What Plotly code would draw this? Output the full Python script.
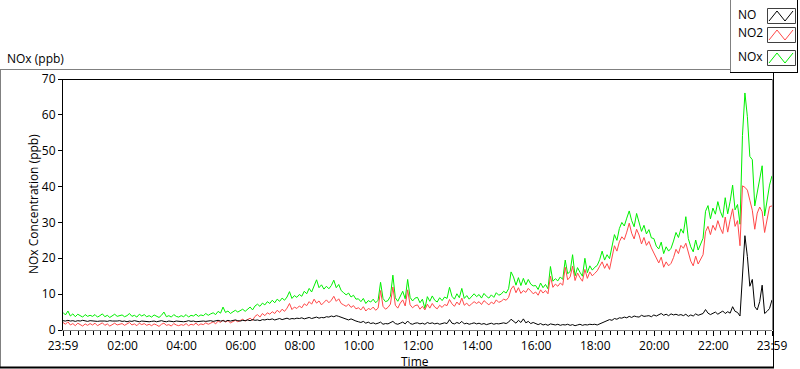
import pandas as pd
import plotly.graph_objects as go

# ---------------- data (5-minute readings, 23:59 -> 23:59) ----------------
NO2 = [
    2.1, 1.6, 2.3, 1.4, 1.8, 1.2, 1.9, 1.5, 1.1, 1.7, 1.3, 1.8,
    1.4, 1.9, 1.2, 1.6, 2.0, 1.3, 1.7, 1.1, 1.5, 1.9, 1.4, 1.6,
    1.8, 1.3, 1.6, 2.1, 1.4, 1.7, 1.2, 1.9, 1.5, 1.8, 1.3, 1.6,
    1.2, 1.7, 1.4, 1.0, 1.6, 1.9, 1.3, 1.5, 1.1, 1.8, 1.4, 1.2,
    1.5, 1.3, 1.8, 1.2, 1.6, 1.4, 1.9, 1.3, 1.7, 1.5, 2.0, 1.6,
    1.9, 2.3, 1.7, 2.5, 2.1, 2.8, 2.2, 2.6, 2.0, 2.4, 2.7, 2.3,
    2.6, 3.0, 2.5, 2.9, 3.3, 2.7, 3.8, 4.3, 3.6, 4.6, 4.0, 4.8,
    4.4, 5.1, 4.6, 5.5, 4.9, 5.8, 5.2, 6.1, 7.4, 5.7, 6.4, 6.0,
    6.7, 6.2, 7.3, 6.8, 7.9, 7.2, 8.6, 7.5, 8.1, 7.0, 7.8, 8.4,
    7.6, 8.3, 9.4, 8.0, 8.7, 7.4, 7.0, 6.6, 7.2, 6.3, 6.8, 5.9,
    6.2, 5.6, 6.5, 5.3, 6.0, 5.7, 6.4, 5.5, 6.1, 11.0, 6.6, 5.8,
    6.3, 7.2, 12.0, 6.9, 6.1, 7.5, 8.4, 6.7, 11.2, 7.0, 6.2, 6.8,
    7.0, 5.8, 6.6, 5.6, 7.2, 6.1, 7.4, 6.4, 5.9, 6.9, 6.3, 7.1,
    6.8, 8.5, 7.3, 6.6, 7.8, 7.0, 8.9, 6.9, 7.5, 6.7, 7.3, 7.9,
    7.4, 7.9, 7.1, 8.2, 7.6, 7.0, 7.8, 7.3, 8.4, 7.7, 8.0, 8.6,
    8.3, 9.1, 11.4, 12.3, 10.4, 11.8, 10.2, 11.0, 10.5, 11.6, 10.9, 10.1,
    10.6, 9.7, 11.2, 10.3, 11.0, 10.1, 15.0, 11.9, 12.8, 12.2, 13.1, 12.5,
    17.5, 14.0, 14.8, 17.8, 13.8, 15.9, 14.6, 13.6, 16.9, 14.4, 16.2, 15.1,
    15.8, 16.5, 17.8, 19.0, 17.2, 18.5, 16.9, 20.1, 23.5, 22.0, 24.6, 26.0,
    25.2, 27.3, 29.8, 27.0, 25.4, 28.1, 26.5, 24.0, 25.8, 23.6, 24.7, 22.9,
    21.4, 19.8, 18.7, 20.3, 17.5, 19.0, 17.9, 18.6, 20.2, 22.5, 21.3, 23.6,
    22.8, 24.2, 21.5, 19.2, 17.9, 20.6, 18.4, 19.8, 21.0, 27.4, 28.9, 26.6,
    29.2, 27.8, 30.5, 28.4, 26.9, 31.5, 27.3, 30.8, 33.8, 28.9, 30.5, 23.5,
    40.2, 39.8, 39.0, 36.2, 33.4, 28.1, 32.6, 34.3, 33.0, 27.2, 30.4, 34.4,
    34.6,
]

NO = [
    2.6, 2.5, 2.7, 2.5, 2.6, 2.4, 2.6, 2.5, 2.7, 2.5, 2.4, 2.6,
    2.5, 2.6, 2.4, 2.5, 2.6, 2.5, 2.4, 2.6, 2.5, 2.4, 2.5, 2.6,
    2.4, 2.5, 2.3, 2.5, 2.4, 2.6, 2.4, 2.3, 2.5, 2.4, 2.5, 2.3,
    2.4, 2.5, 2.3, 2.4, 2.6, 2.4, 2.3, 2.5, 2.4, 2.3, 2.5, 2.4,
    2.5, 2.3, 2.4, 2.6, 2.4, 2.5, 2.3, 2.4, 2.6, 2.5, 2.4, 2.5,
    2.6, 2.4, 2.5, 2.7, 2.5, 2.6, 2.4, 2.7, 2.5, 2.6, 2.8, 2.6,
    2.5, 2.7, 2.6, 2.8, 2.6, 2.9, 2.7, 2.8, 2.6, 2.9, 2.8, 3.0,
    2.9, 3.1, 2.8, 3.0, 3.2, 2.9, 3.1, 3.3, 3.0, 3.2, 3.1, 3.3,
    3.2, 3.4, 3.1, 3.3, 3.5, 3.2, 3.4, 3.6, 3.3, 3.5, 3.4, 3.7,
    3.6, 3.9, 3.7, 4.0, 3.8, 3.5, 3.2, 3.0, 2.8, 3.1, 2.7, 2.5,
    2.3, 2.1, 2.4, 1.9, 2.2, 1.8, 2.0, 1.7, 1.9, 2.2, 1.6, 1.8,
    1.7, 2.0, 2.4, 1.8, 1.6, 1.9, 2.2, 1.7, 2.5, 1.8, 1.6, 1.9,
    2.0, 1.7, 1.9, 1.6, 2.1, 1.8, 2.0, 1.7, 1.9, 1.6, 1.8, 2.0,
    1.8, 2.9, 1.9, 1.7, 2.1, 1.8, 2.4, 1.7, 1.9, 1.6, 1.8, 2.0,
    1.7, 1.9, 1.6, 1.8, 1.5, 1.7, 1.9, 1.6, 1.8, 1.7, 1.9, 2.0,
    1.8, 2.2, 3.0, 2.3, 1.9, 2.7, 2.1, 3.1, 2.0, 2.4, 1.8, 2.1,
    1.7, 1.5, 1.8, 1.4, 1.6, 1.3, 1.7, 1.5, 1.4, 1.6, 1.3, 1.5,
    1.4, 1.6, 1.3, 1.5, 1.2, 1.4, 1.6, 1.3, 1.5, 1.4, 1.6, 1.5,
    1.6, 1.4, 1.7, 1.9, 2.2, 2.6, 2.9, 2.7, 3.2, 3.0, 3.4, 3.3,
    3.6, 3.4, 3.8, 3.5, 3.9, 3.7, 3.6, 4.1, 3.8, 3.9, 4.0, 3.7,
    4.2, 3.9, 4.3, 4.6, 4.1, 4.4, 4.0, 4.5, 4.2, 4.4, 4.1, 4.3,
    4.0, 4.4, 3.8, 4.2, 3.9, 4.5, 4.1, 4.3, 4.6, 5.7, 4.7, 4.3,
    4.6, 5.0, 4.4, 4.8, 5.3, 4.6, 5.1, 4.7, 6.5, 5.2, 4.9, 3.9,
    14.0, 26.3, 20.5, 12.2, 14.1, 6.5, 5.6, 7.9, 12.5, 4.6, 5.2, 6.0,
    8.4,
]

NOx = [
    4.9, 4.2, 5.3, 3.9, 4.5, 3.7, 4.4, 4.0, 3.6, 4.3, 3.8, 4.1,
    3.8, 4.3, 3.6, 4.0, 4.5, 3.7, 4.1, 3.5, 3.9, 4.4, 3.8, 4.0,
    4.2, 3.7, 4.0, 4.6, 3.8, 4.1, 3.6, 4.4, 3.9, 4.3, 3.7, 4.0,
    3.6, 4.2, 3.8, 3.5, 4.1, 5.0, 3.7, 4.0, 3.6, 4.3, 3.8, 3.6,
    4.0, 3.7, 4.3, 3.6, 4.1, 3.9, 4.4, 3.8, 4.2, 4.0, 4.6, 4.1,
    4.5, 4.8, 4.3, 5.2, 4.7, 6.4, 4.9, 5.3, 4.6, 5.1, 5.5, 5.0,
    5.3, 5.8, 5.2, 5.9, 6.4, 5.6, 6.7, 7.2, 6.6, 7.5, 7.0, 7.9,
    7.4, 8.3, 7.6, 8.6, 8.0, 8.9, 8.3, 9.2, 10.7, 8.8, 9.6, 9.1,
    9.9, 9.4, 10.8, 10.1, 11.6, 10.6, 12.3, 14.0, 11.8, 12.6, 11.4, 12.2,
    11.5, 12.4, 13.9, 11.8, 12.7, 11.0, 10.4, 9.8, 10.3, 9.2, 9.7, 8.6,
    8.7, 7.9, 8.8, 7.4, 8.2, 7.8, 8.6, 7.6, 8.3, 13.3, 8.8, 7.9,
    8.2, 9.4, 15.3, 9.0, 8.0, 9.6, 10.8, 8.7, 14.1, 9.1, 8.1, 8.9,
    9.1, 7.6, 8.6, 6.0, 9.3, 8.0, 9.5, 8.3, 7.8, 9.0, 8.2, 9.2,
    8.8, 11.9, 9.4, 8.6, 10.1, 9.0, 11.6, 8.8, 9.6, 8.6, 9.3, 10.1,
    9.3, 9.9, 8.9, 10.2, 9.4, 8.9, 9.8, 9.1, 10.4, 9.7, 10.0, 10.8,
    10.3, 11.5, 16.2, 14.8, 12.5, 14.6, 12.4, 14.4, 12.6, 14.1, 12.8, 12.3,
    12.4, 11.3, 13.1, 11.8, 12.7, 11.5, 17.7, 13.6, 14.3, 13.7, 14.8, 14.1,
    19.5, 15.7, 16.3, 21.0, 15.1, 17.4, 16.1, 15.0, 20.0, 16.0, 17.9, 16.7,
    17.5, 18.0, 19.6, 22.0, 19.5, 21.0, 19.9, 23.0, 26.6, 25.0, 28.3, 30.0,
    29.0, 31.2, 33.2, 30.5, 28.8, 32.5, 30.0, 27.5, 29.2, 26.8, 28.0, 25.7,
    25.5, 23.4, 22.6, 24.5, 21.3, 23.2, 22.0, 22.8, 24.8, 27.2, 25.8, 28.2,
    27.0, 31.6, 25.5, 23.2, 21.8, 25.1, 22.3, 23.9, 25.6, 33.1, 34.7, 31.0,
    34.0, 32.3, 35.8, 33.1, 31.4, 36.9, 32.4, 35.9, 40.4, 33.5, 35.0, 29.5,
    54.2, 66.1, 59.5, 48.4, 47.5, 34.6, 38.2, 42.2, 45.8, 31.8, 35.6, 40.4,
    43.0,
]

START = "2024-01-01 23:59"
STEP = "5min"
TICK_TIMES = ["2024-01-01 23:59", "2024-01-02 02:00", "2024-01-02 04:00", "2024-01-02 06:00",
              "2024-01-02 08:00", "2024-01-02 10:00", "2024-01-02 12:00", "2024-01-02 14:00",
              "2024-01-02 16:00", "2024-01-02 18:00", "2024-01-02 20:00", "2024-01-02 22:00",
              "2024-01-02 23:59"]
TICK_LABELS = ["23:59", "02:00", "04:00", "06:00", "08:00", "10:00", "12:00", "14:00",
               "16:00", "18:00", "20:00", "22:00", "23:59"]
Y_TICKS = [0, 10, 20, 30, 40, 50, 60, 70]

SERIES = [("NOx", NOx, "#00f000"), ("NO2", NO2, "#ff4848"), ("NO", NO, "#000000")]
LEGEND_ORDER = [("NO", "#000000"), ("NO2", "#ff4848"), ("NOx", "#00f000")]

times = pd.date_range(START, periods=len(NO), freq=STEP)

FONT = "Segoe UI, Open Sans, Noto Sans, sans-serif"

fig = go.Figure()
for name, vals, col in SERIES:
    fig.add_trace(go.Scatter(x=times, y=vals, mode="lines", name=name,
                             line=dict(color=col, width=1), showlegend=False))

# ---------------- layout geometry (pixels) ----------------
W, H = 800, 369
L, R, T, B = 63, 772, 79, 330


def px(x):
    return (x - L) / (R - L)


def py(y):
    return (B - y) / (B - T)


def line(x0, y0, x1, y1, color, width=1):
    return dict(type="line", xref="paper", yref="paper", x0=px(x0), y0=py(y0),
                x1=px(x1), y1=py(y1), line=dict(color=color, width=width), layer="above")


shapes = [
    line(62, 79.5, 772, 79.5, "#000000"),        # plot top
    line(772.5, 79, 772.5, 330, "#808080"),      # plot right
    line(0, 69.5, 730, 69.5, "#808080"),         # panel top
    line(0.5, 69, 0.5, 368, "#808080"),          # panel left
    line(0, 367.5, 774, 367.5, "#000000", 2),    # panel bottom
    line(773.5, 72, 773.5, 368, "#000000"),      # panel right
    line(730.5, 0, 730.5, 72, "#808080"),        # legend left
    line(730, 72.5, 798, 72.5, "#000000"),       # legend bottom
    line(797.5, 0, 797.5, 73, "#000000"),        # legend right
]

annotations = [
    dict(text="NOx (ppb)", xref="paper", yref="paper", x=px(5), y=py(58),
         xanchor="left", yanchor="middle", showarrow=False,
         font=dict(family=FONT, size=12, color="#000000")),
    dict(text="Time", xref="paper", yref="paper", x=px(415), y=py(361),
         xanchor="center", yanchor="middle", showarrow=False,
         font=dict(family=FONT, size=12, color="#000000")),
    dict(text="NOx Concentration (ppb)", xref="paper", yref="paper", x=px(33), y=py(204),
         xanchor="center", yanchor="middle", showarrow=False, textangle=-90,
         font=dict(family=FONT, size=12, color="#000000")),
]

box_tops = [8, 27, 50]
for (name, col), bt in zip(LEGEND_ORDER, box_tops):
    bb = bt + 15
    shapes.append(dict(type="rect", xref="paper", yref="paper", x0=px(767.5), x1=px(795.5),
                       y0=py(bt + 0.5), y1=py(bb + 0.5), line=dict(color="#404040", width=1),
                       fillcolor="white", layer="above"))
    pts = [(769, bb - 2), (777, bt + 3), (785, bb - 2), (793, bt + 3)]
    path = "M " + " L ".join(f"{px(a)},{py(b)}" for a, b in pts)
    shapes.append(dict(type="path", xref="paper", yref="paper", path=path,
                       line=dict(color=col, width=1), layer="above"))
    annotations.append(dict(text=name, xref="paper", yref="paper", x=px(736), y=py(bt + 6),
                            xanchor="left", yanchor="middle", showarrow=False,
                            font=dict(family=FONT, size=12, color="#000000")))

fig.update_layout(
    width=W, height=H,
    margin=dict(l=L, r=W - R, t=T, b=H - B, pad=0, autoexpand=False),
    paper_bgcolor="white", plot_bgcolor="white",
    font=dict(family=FONT, size=12, color="#000000"),
    showlegend=False,
    shapes=shapes, annotations=annotations,
    xaxis=dict(
        type="date", range=[TICK_TIMES[0], TICK_TIMES[-1]], automargin=False,
        tickmode="array", tickvals=TICK_TIMES, ticktext=TICK_LABELS,
        ticks="outside", ticklen=5, tickwidth=1, tickcolor="#000000",
        showline=True, linecolor="#808080", linewidth=1,
        showgrid=False, zeroline=False,
        tickfont=dict(family=FONT, size=12),
        minor=dict(ticks="outside", ticklen=4, tickcolor="#000000",
                   dtick=15 * 60 * 1000, tick0="2024-01-02 00:00", showgrid=False),
    ),
    yaxis=dict(
        range=[0, 70], tickmode="array", tickvals=Y_TICKS, automargin=False,
        ticks="outside", ticklen=4, tickcolor="#000000",
        showline=True, linecolor="#000000", linewidth=1,
        showgrid=False, zeroline=False,
        tickfont=dict(family=FONT, size=12),
    ),
)

fig.write_html("out.html", config={"displayModeBar": False},
               post_script="document.body.style.margin='0';")
